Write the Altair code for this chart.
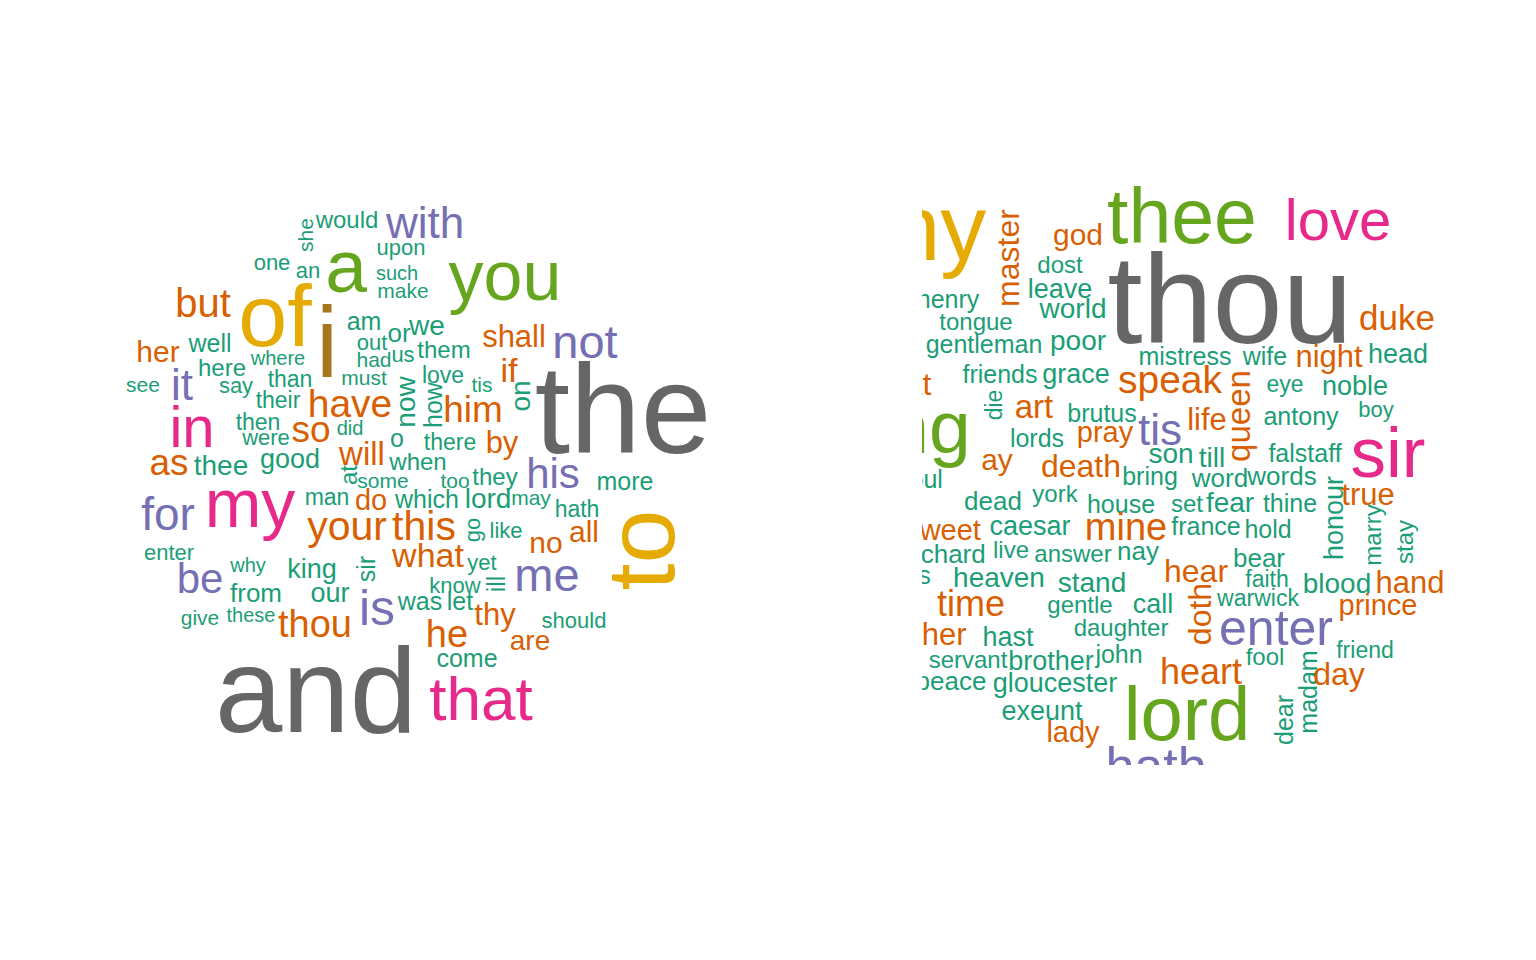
import altair as alt
import pandas as pd

DARK2 = ["#1B9E77", "#D95F02", "#7570B3", "#E7298A", "#66A61E", "#E6AB02", "#A6761D", "#666666"]

# ---- left cloud (all words) ----
left_words = ["she", "would", "with", "upon", "a", "such", "make", "you", "one", "an",
              "of", "i", "but", "her", "well", "where", "here", "than", "it", "see",
              "say", "their", "in", "then", "were", "so", "as", "thee", "good", "for",
              "my", "man", "enter", "be", "why", "king", "from", "our", "give", "these",
              "thou", "and", "must", "have", "now", "how", "love", "tis", "if", "on",
              "him", "did", "o", "there", "by", "will", "when", "at", "some", "too",
              "they", "do", "which", "lord", "may", "your", "this", "go", "like", "the",
              "his", "more", "hath", "all", "no", "to", "me", "should", "what", "yet",
              "sir", "know", "ill", "is", "was", "let", "thy", "he", "are", "come",
              "that", "us", "am", "or", "we", "out", "had", "them", "shall", "not"]
left_x = [313, 347, 425, 401, 346, 397, 403, 505, 272, 308,
          275, 327, 203, 158, 210, 278, 222, 290, 182, 143,
          236, 278, 192, 258, 266, 311, 169, 221, 290, 168,
          250, 327, 169, 200, 248, 312, 256, 330, 200, 251,
          315, 316, 364, 350, 415, 442, 443, 482, 509, 530,
          473, 350, 397, 450, 502, 362, 418, 357, 383, 455,
          495, 371, 427, 488, 531, 347, 424, 480, 506, 623,
          553, 625, 577, 584, 546, 674, 547, 574, 428, 482,
          375, 455, 505, 377, 420, 460, 495, 447, 530, 467,
          481, 403, 364, 399, 427, 372, 374, 444, 514, 585]
left_y = [235, 228, 238, 255, 292, 280, 298, 300, 270, 278,
          346, 377, 317, 362, 352, 365, 376, 387, 400, 392,
          393, 408, 447, 430, 445, 442, 475, 475, 468, 530,
          527, 505, 560, 593, 572, 578, 602, 602, 625, 622,
          637, 732, 385, 417, 402, 405, 383, 392, 382, 396,
          422, 435, 447, 450, 453, 465, 470, 475, 488, 488,
          485, 510, 508, 508, 505, 540, 540, 530, 538, 453,
          488, 490, 517, 542, 553, 550, 591, 628, 567, 570,
          569, 593, 584, 625, 610, 610, 625, 647, 650, 667,
          720, 362, 330, 342, 335, 350, 367, 358, 347, 358]
left_size = [21, 24, 44, 22, 75, 20, 21, 70, 22, 22,
             88, 100, 40, 30, 25, 20, 24, 23, 44, 21,
             22, 23, 58, 23, 22, 37, 37, 28, 27, 46,
             68, 23, 22, 42, 20, 27, 26, 27, 21, 20,
             38, 121, 21, 39, 28, 25, 23, 21, 34, 28,
             37, 20, 25, 23, 31, 33, 24, 24, 21, 21,
             24, 29, 25, 28, 21, 41, 41, 22, 22, 127,
             42, 25, 23, 30, 30, 97, 47, 22, 34, 22,
             25, 22, 25, 50, 25, 25, 31, 38, 28, 25,
             62, 22, 25, 26, 28, 22, 21, 24, 31, 47]
left_angle = [270, 0, 0, 0, 0, 0, 0, 0, 0, 0,
              0, 0, 0, 0, 0, 0, 0, 0, 0, 0,
              0, 0, 0, 0, 0, 0, 0, 0, 0, 0,
              0, 0, 0, 0, 0, 0, 0, 0, 0, 0,
              0, 0, 0, 0, 270, 270, 0, 0, 0, 270,
              0, 0, 0, 0, 0, 0, 0, 270, 0, 0,
              0, 0, 0, 0, 0, 0, 0, 270, 0, 0,
              0, 0, 0, 0, 0, 270, 0, 0, 0, 0,
              270, 0, 270, 0, 0, 0, 0, 0, 0, 0,
              0, 0, 0, 0, 0, 0, 0, 0, 0, 0]
left_group = [0, 0, 2, 0, 4, 0, 0, 4, 0, 0,
              5, 6, 1, 1, 0, 0, 0, 0, 2, 0,
              0, 0, 3, 0, 0, 1, 1, 0, 0, 2,
              3, 0, 0, 2, 0, 0, 0, 0, 0, 0,
              1, 7, 0, 1, 0, 0, 0, 0, 1, 0,
              1, 0, 0, 0, 1, 1, 0, 0, 0, 0,
              0, 1, 0, 0, 0, 1, 1, 0, 0, 7,
              2, 0, 0, 1, 1, 5, 2, 0, 1, 0,
              0, 0, 0, 2, 0, 0, 1, 1, 1, 0,
              3, 0, 0, 0, 0, 0, 0, 0, 1, 2]

# ---- right cloud (stop words removed) ----
right_words = ["my", "master", "god", "dost", "henry", "leave", "world", "tongue", "gentleman", "poor",
               "friends", "grace", "great", "thee", "love", "thou", "duke", "mistress", "wife", "night",
               "head", "speak", "queen", "eye", "noble", "boy", "life", "antony", "tis", "art",
               "die", "brutus", "king", "lords", "pray", "ay", "death", "son", "till", "falstaff",
               "sir", "soul", "bring", "word", "words", "dead", "york", "house", "set", "fear",
               "thine", "honour", "true", "marry", "stay", "sweet", "caesar", "mine", "france", "hold",
               "richard", "live", "answer", "nay", "bear", "tears", "heaven", "stand", "hear", "faith",
               "blood", "hand", "time", "gentle", "call", "doth", "warwick", "prince", "father", "hast",
               "daughter", "enter", "friend", "servant", "brother", "john", "fool", "madam", "day", "heart",
               "peace", "gloucester", "lord", "exeunt", "lady", "dear", "hath"]
right_x = [925, 1019, 1078, 1060, 948, 1060, 1073, 976, 984, 1078,
           1000, 1076, 895, 1182, 1338, 1230, 1397, 1185, 1265, 1329,
           1398, 1170, 1250, 1285, 1355, 1376, 1207, 1301, 1160, 1034,
           1002, 1102, 902, 1037, 1105, 997, 1081, 1171, 1212, 1305,
           1388, 920, 1150, 1220, 1282, 993, 1055, 1121, 1187, 1230,
           1290, 1343, 1368, 1381, 1413, 943, 1030, 1126, 1206, 1268,
           946, 1011, 1073, 1138, 1259, 903, 999, 1092, 1196, 1267,
           1337, 1410, 971, 1080, 1153, 1211, 1258, 1378, 927, 1008,
           1121, 1276, 1365, 968, 1051, 1119, 1265, 1317, 1339, 1201,
           951, 1055, 1187, 1042, 1073, 1293, 1156]
right_y = [260, 258, 245, 273, 308, 298, 318, 330, 353, 350,
           383, 383, 395, 243, 240, 343, 330, 365, 365, 367,
           363, 393, 416, 392, 395, 417, 430, 425, 445, 418,
           405, 422, 453, 447, 442, 470, 477, 463, 467, 462,
           477, 488, 485, 487, 485, 510, 502, 513, 512, 512,
           512, 518, 505, 535, 542, 540, 535, 540, 535, 538,
           563, 558, 562, 560, 567, 584, 587, 592, 582, 587,
           593, 593, 616, 613, 613, 614, 606, 615, 645, 646,
           636, 645, 658, 668, 670, 663, 665, 692, 685, 684,
           690, 692, 740, 720, 742, 720, 784]
right_size = [92, 32, 30, 24, 25, 27, 28, 24, 25, 28,
              25, 27, 32, 77, 58, 126, 35, 25, 25, 31,
              27, 39, 33, 23, 27, 22, 31, 25, 44, 33,
              23, 25, 75, 25, 29, 30, 32, 28, 28, 25,
              71, 25, 25, 26, 26, 26, 24, 25, 24, 28,
              25, 27, 31, 24, 24, 29, 27, 38, 25, 25,
              26, 24, 24, 26, 26, 25, 28, 28, 32, 23,
              28, 31, 36, 24, 27, 32, 23, 29, 31, 27,
              24, 50, 23, 24, 27, 25, 24, 25, 32, 36,
              26, 27, 76, 27, 29, 25, 52]
right_angle = [0, 270, 0, 0, 0, 0, 0, 0, 0, 0,
               0, 0, 0, 0, 0, 0, 0, 0, 0, 0,
               0, 0, 270, 0, 0, 0, 0, 0, 0, 0,
               270, 0, 0, 0, 0, 0, 0, 0, 0, 0,
               0, 0, 0, 0, 0, 0, 0, 0, 0, 0,
               0, 270, 0, 270, 270, 0, 0, 0, 0, 0,
               0, 0, 0, 0, 0, 0, 0, 0, 0, 0,
               0, 0, 0, 0, 0, 270, 0, 0, 0, 0,
               0, 0, 0, 0, 0, 0, 0, 270, 0, 0,
               0, 0, 0, 0, 0, 270, 0]
right_group = [5, 1, 1, 0, 0, 0, 0, 0, 0, 0,
               0, 0, 1, 4, 3, 7, 1, 0, 0, 1,
               0, 1, 1, 0, 0, 0, 1, 0, 2, 1,
               0, 0, 4, 0, 1, 1, 1, 0, 0, 0,
               3, 0, 0, 0, 0, 0, 0, 0, 0, 0,
               0, 0, 1, 0, 0, 1, 0, 1, 0, 0,
               0, 0, 0, 0, 0, 0, 0, 0, 1, 0,
               0, 1, 1, 0, 0, 1, 0, 1, 1, 0,
               0, 2, 0, 0, 0, 0, 0, 0, 1, 1,
               0, 0, 4, 0, 1, 0, 2]

left_df = pd.DataFrame({"word": left_words, "x": left_x, "y": left_y, "size": left_size,
                        "angle": left_angle, "group": left_group})
right_df = pd.DataFrame({"word": right_words, "x": right_x, "y": right_y, "size": right_size,
                         "angle": right_angle, "group": right_group})

Y_DOMAIN = [180, 765]
PANEL_H = 585


def panel(df, xdom, width, clip):
    return alt.Chart(df).mark_text(
        font="Liberation Sans", align="center", baseline="alphabetic", clip=clip
    ).encode(
        x=alt.X("x:Q", scale=alt.Scale(domain=xdom, nice=False, zero=False), axis=None),
        y=alt.Y("y:Q", scale=alt.Scale(domain=Y_DOMAIN, nice=False, zero=False, reverse=True), axis=None),
        text="word:N",
        size=alt.Size("size:Q", scale=None, legend=None),
        angle=alt.Angle("angle:Q", scale=None),
        color=alt.Color("group:N", scale=alt.Scale(domain=list(range(8)), range=DARK2), legend=None),
    ).properties(width=width, height=PANEL_H)


left = panel(left_df, [0, 900], 900, False)
right = panel(right_df, [922, 1460], 538, True)

chart = alt.hconcat(left, right, spacing=22, bounds="flush").properties(
    padding={"left": 0, "top": 180, "right": 0, "bottom": 0},
    background="white",
).configure_view(stroke=None)

chart.save("out.html", embed_options={"renderer": "svg", "actions": False})
